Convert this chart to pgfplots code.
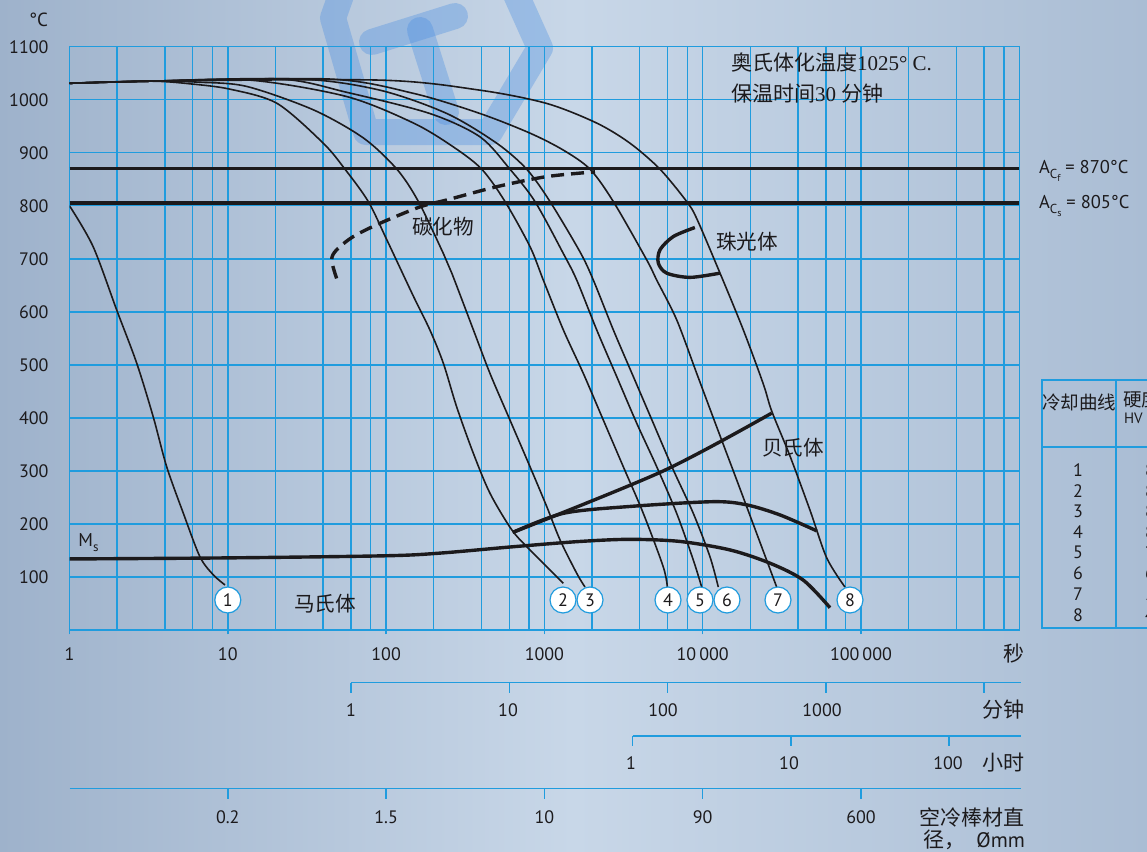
\documentclass[border=0pt]{standalone}
\usepackage{pgfplots}
\pgfplotsset{compat=1.18}
\usepackage{fontspec}
\setmainfont{PT Sans}
\newfontfamily\cjk{Noto Sans CJK SC}
\newfontfamily\tms{Liberation Serif}
\definecolor{gridblue}{RGB}{32,156,222}
\definecolor{ink}{RGB}{28,26,28}
\definecolor{bgL}{RGB}{158,178,203}
\definecolor{bgM}{RGB}{200,215,232}
\definecolor{bgR}{RGB}{170,189,212}
\definecolor{logo}{RGB}{70,140,225}
\newcommand\fs[1]{\fontsize{#1}{#1}\selectfont}
\newcommand\Ac[1]{A\raisebox{-0.55ex}{\fs{6.5}C\raisebox{-0.5ex}{\fs{5}#1}}}
\tikzset{
  cthin/.style={ink,line width=0.8pt},
  cthick/.style={ink,line width=1.7pt},
  circ/.style={circle,draw=gridblue,fill=white,line width=0.6pt,minimum size=13pt,inner sep=0pt,font=\fs{9},text=ink},
}
\begin{document}
\begin{tikzpicture}
\useasboundingbox (0,0) rectangle (573.5pt,-426pt);
\clip (0,0) rectangle (573.5pt,-426pt);
% background and faint logo
\begin{scope}[x=0.5pt,y=-0.5pt]
  \shade[left color=bgL,right color=bgR,middle color=bgM] (0,0) rectangle (1147,852);
  \begin{scope}[logo,opacity=0.34,line width=13pt,line join=round,line cap=round]
    \draw (350,-30) -- (333,18) -- (366,132) -- (490,132) -- (540,48) -- (505,-30);
    \draw (372,42) -- (455,16);
    \draw (420,30) -- (446,112);
  \end{scope}
\end{scope}
\begin{axis}[
  at={(34.75pt,-315pt)}, anchor=south west,
  scale only axis, width=474.9pt, height=291.65pt,
  xmode=log, log basis x=10,
  xmin=1, xmax=1e6, ymin=0, ymax=1100,
  xtick={1,10,100,1000,10000,100000},
  xticklabels={1,10,100,1000,10\,000,100\,000},
  minor xtick={2,4,6,8,20,40,60,80,200,400,600,800,2000,4000,6000,8000,20000,40000,60000,80000,200000,400000,600000,800000},
  ytick={100,200,300,400,500,600,700,800,900,1000,1100},
  yticklabels={100,200,300,400,500,600,700,800,900,1000,1100},
  grid=both,
  major grid style={gridblue,line width=0.7pt},
  minor grid style={gridblue,line width=0.7pt},
  axis line style={gridblue,line width=0.7pt},
  xtick style={gridblue,line width=0.7pt},
  ytick style={draw=none},
  minor tick length=0pt,
  major tick length=2.2pt,
  tick align=outside,
  xtick pos=bottom, ytick pos=left,
  tick label style={font=\fs{9}, text=ink},
  xticklabel style={yshift=-3pt},
  yticklabel style={xshift=-4.8pt},
]
% transformation temperatures
\addplot[cthick] coordinates {(1,870) (1e6,870)};
\addplot[cthick] coordinates {(1,805) (1e6,805)};
% cooling curves
\addplot[cthin,smooth,tension=0.5] coordinates {(1,800) (1.41,723) (1.99,603) (2.66,503) (3.38,402) (4.11,308) (5.24,220) (6.67,138) (8.10,104) (9.6,85)};
\addplot[cthin,smooth,tension=0.5] coordinates {(1,1031) (3.23,1035) (5.77,1030) (10.3,1020) (20.5,993) (40.1,918) (55,869) (77.2,808) (101,736) (149,629) (189,566) (230,503) (279,421) (356,333) (453,258) (622,189) (811,151) (1317,88)};
\addplot[cthin,smooth,tension=0.5] coordinates {(1,1031) (3.23,1035) (6.67,1033) (13.2,1025) (34.7,981) (71.8,928) (117,869) (160,808) (230,710) (260,673) (356,566) (453,484) (606,396) (811,308) (1034,233) (1255,170) (1600,107) (1805,81)};
\addplot[cthin,smooth,tension=0.5] coordinates {(1,1031) (3.23,1035) (13.8,1037) (56.4,1006) (149,956) (266,911) (402,869) (564,808) (811,723) (984,660) (1317,566) (1761,484) (2355,396) (3150,308) (4215,220) (5637,119) (5980,81)};
\addplot[cthin,smooth,tension=0.5] coordinates {(1,1031) (3.23,1035) (21.4,1039) (56.4,1014) (189,974) (392,930) (606,869) (872,808) (1317,710) (1600,660) (2140,566) (2862,478) (3830,390) (5122,308) (6850,220) (8723,132) (9855,81)};
\addplot[cthin,smooth,tension=0.5] coordinates {(1,1031) (3.23,1035) (28.6,1039) (91.5,1018) (242,974) (500,918) (773,869) (1085,808) (1679,713) (2037,660) (2725,566) (3644,478) (4874,390) (6521,302) (8723,220) (11121,138) (12545,81)};
\addplot[cthin,smooth,tension=0.5] coordinates {(1,1031) (3.23,1035) (44.2,1039) (149,1012) (392,974) (811,937) (1317,905) (1942,869) (2725,808) (4429,698) (5122,660) (6850,585) (9165,484) (12260,383) (16400,283) (21936,182) (29340,81)};
\addplot[cthin,smooth,tension=0.5] coordinates {(1,1031) (3.23,1035) (91.5,1037) (392,1018) (1034,993) (2140,956) (3474,918) (5375,869) (7923,808) (9165,776) (12866,673) (18050,566) (24145,464) (27280,413) (35610,328) (47620,226) (60730,136) (79230,81)};
% carbide precipitation start (dashed)
\addplot[cthick,smooth,dash pattern=on 6.5pt off 3.5pt] coordinates {(48.7,663) (45.3,698) (48.7,717) (62.1,742) (91.5,767) (164,798) (242,811) (500,836) (1034,855) (2087,864)};
% pearlite nose
\addplot[cthick,smooth] coordinates {(8928,759) (6521,742) (5375,717) (5243,692) (5924,673) (8315,665) (12866,673)};
% bainite start and finish
\addplot[cthick,smooth] coordinates {(631,184) (5637,300) (27280,409)};
\addplot[cthick,smooth] coordinates {(631,184) (1317,220) (3474,233) (11670,242) (18970,236) (30790,217) (52530,187)};
% martensite start
\addplot[cthick,smooth] coordinates {(1,134) (10,136) (100,140) (219,145) (633,157) (1679,167) (3474,171) (7190,167) (14880,151) (26620,126) (43200,94) (63720,42)};
% curve numbers
\node[circ] at (10,56.6) {1};
\node[circ] at (1311,56.6) {2};
\node[circ] at (1942,56.6) {3};
\node[circ] at (6037,56.6) {4};
\node[circ] at (9614,56.6) {5};
\node[circ] at (14240,56.6) {6};
\node[circ] at (29900,56.6) {7};
\node[circ] at (85210,56.6) {8};
\end{axis}
\begin{scope}[x=0.5pt,y=-0.5pt,every node/.style={text=ink}]
  % unit and transformation labels
  \node[anchor=west,font=\fs{9.5}] at (22,20) {°C};
  \node[anchor=base west,font=\fs{9.25}] at (1032,173) {\Ac{f} = 870°C};
  \node[anchor=base west,font=\fs{9.25}] at (1032,208) {\Ac{s} = 805°C};
  % heat treatment note
  \node[anchor=west,font=\fs{10.5}] at (724,62) {\cjk 奥氏体化温度\tms 1025° C.};
  \node[anchor=west,font=\fs{10.5}] at (724,94) {\cjk 保温时间\tms 30 \cjk 分钟};
  % phase fields
  \node[font=\fs{10.3}] at (443,227) {\cjk 碳化物};
  \node[font=\fs{10.3}] at (747,242) {\cjk 珠光体};
  \node[font=\fs{10.3}] at (793,448) {\cjk 贝氏体};
  \node[font=\fs{10.3}] at (325,604) {\cjk 马氏体};
  \node[anchor=base west,font=\fs{9.25},inner sep=0pt] at (78,546) {M\raisebox{-0.6ex}{\fs{6.5}s}};
  % secondary time scales
  \begin{scope}[gridblue,line width=0.75pt]
    \draw (351,682.7) -- (1021,682.7);
    \foreach \x in {351,509.3,667.6,825.9,984.2} \draw (\x,682.7) -- (\x,693);
    \draw (632.5,736) -- (1021,736);
    \foreach \x in {632.5,790.8,949.1} \draw (\x,736) -- (\x,746);
    \draw (69.5,788.7) -- (1021,788.7);
    \foreach \x in {227.8,386.1,544.4,702.7,861} \draw (\x,788.7) -- (\x,799);
  \end{scope}
  \foreach \x/\l in {351/1,508/10,663/100,822/1000} \node[font=\fs{9}] at (\x,710) {\l};
  \foreach \x/\l in {631/1,789/10,948/100} \node[font=\fs{9}] at (\x,763) {\l};
  \foreach \x/\l in {227.8/0.2,386.1/1.5,544.4/10,702.7/90,861/600} \node[font=\fs{9}] at (\x,817) {\l};
  \node[anchor=east,font=\fs{10.5}] at (1032,653) {\cjk 秒};
  \node[anchor=east,font=\fs{10.5}] at (1032,710) {\cjk 分钟};
  \node[anchor=east,font=\fs{10.5}] at (1032,763) {\cjk 小时};
  \node[anchor=east,font=\fs{10.5}] at (1032,817) {\cjk 空冷棒材直};
  \node[anchor=east,font=\fs{10.5}] at (1032,840) {\cjk 径，\rmfamily\ \ Ømm};
  % hardness table
  \draw[gridblue,line width=1pt] (1042,380) rectangle (1230,628);
  \draw[gridblue,line width=1pt] (1042,446.7) -- (1230,446.7);
  \draw[gridblue,line width=1pt] (1116,380) -- (1116,628);
  \node[font=\fs{9.25}] at (1079,402) {\cjk 冷却曲线};
  \node[anchor=west,font=\fs{9.25}] at (1116,399) {\cjk 硬度};
  \node[anchor=west,font=\fs{7.5}] at (1117,418) {HV};
  \foreach \i/\v in {1/835,2/830,3/820,4/805,5/760,6/650,7/560,8/450} {
    \node[font=\fs{9}] at (1078,{470+(\i-1)*20.7}) {\i};
    \node[anchor=west,font=\fs{9}] at (1138,{470+(\i-1)*20.7}) {\v};
  }
\end{scope}
\end{tikzpicture}
\end{document}
